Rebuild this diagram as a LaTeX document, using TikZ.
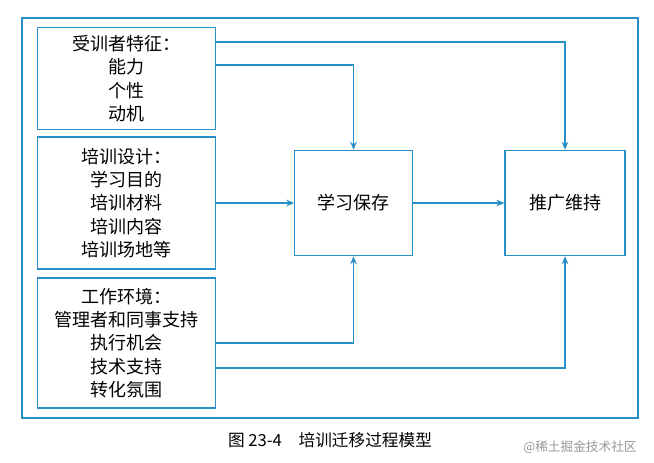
\documentclass[tikz,border=0pt]{standalone}
\usepackage{fontspec}
\setmainfont{Noto Sans CJK SC}
\usetikzlibrary{arrows.meta}
\definecolor{bl}{HTML}{2A8FC7}
\begin{document}
\begin{tikzpicture}[x=0.75pt,y=-0.75pt,
  bx/.style={draw=bl,line width=0.9pt,align=center,inner sep=0pt,font=\fontsize{13.5}{17.5}\selectfont},
  ar/.style={draw=bl,line width=0.9pt,-{Stealth[length=6pt,width=5pt]}}]
\useasboundingbox (0,0) rectangle (654,462);
\fill[white] (0,0) rectangle (654,462);
\draw[bl,line width=0.9pt] (22,18) rectangle (638,418);
\node[bx,minimum width=133pt,minimum height=77pt] (a) at (126.5,78.5) {受训者特征：\\能力\\个性\\动机};
\node[bx,minimum width=133pt,minimum height=99pt] (b) at (126.5,203) {培训设计：\\学习目的\\培训材料\\培训内容\\培训场地等};
\node[bx,minimum width=133pt,minimum height=97.5pt] (c) at (126.5,343) {工作环境：\\管理者和同事支持\\执行机会\\技术支持\\转化氛围};
\node[bx,minimum width=88pt,minimum height=79pt] (m) at (353.5,203) {学习保存};
\node[bx,minimum width=90pt,minimum height=79pt] (r) at (565,203) {推广维持};
\coordinate (a1) at (215,42); \coordinate (a2) at (215,65);
\coordinate (c1) at (215,343); \coordinate (c2) at (215,368);
\draw[ar] (a1) -| (r.north);
\draw[ar] (a2) -| (m.north);
\draw[ar] (b.east) -- (m.west);
\draw[ar] (m.east) -- (r.west);
\draw[ar] (c1) -| (m.south);
\draw[ar] (c2) -| (r.south);
\node[font=\fontsize{12.5}{14}\selectfont] (cap) at (330,440) {图 23-4\quad 培训迁移过程模型};
\node[font=\fontsize{9.5}{11}\selectfont,text=black!40] (wm) at (580,447) {@稀土掘金技术社区};
\end{tikzpicture}
\end{document}
